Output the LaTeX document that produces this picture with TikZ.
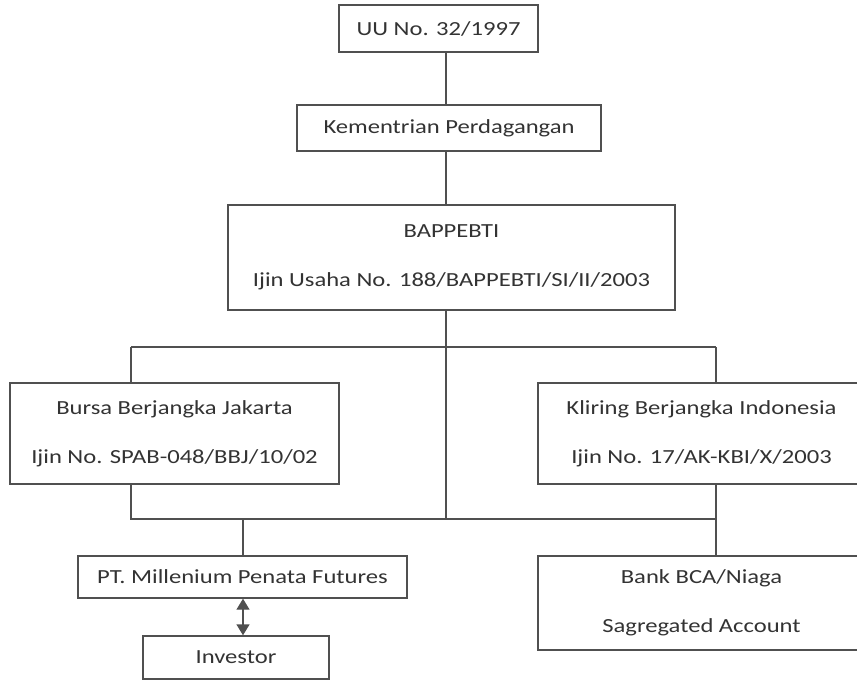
\documentclass[tikz,border=0pt]{standalone}
\usepackage{fontspec}
\setmainfont{Carlito}[FakeStretch=1.23]
\usetikzlibrary{arrows.meta}
\definecolor{linegray}{HTML}{505050}
\definecolor{textgray}{HTML}{333333}
\begin{document}
\begin{tikzpicture}[x=1pt,y=-1pt,
  box/.style={draw=linegray, line width=1.4pt, inner sep=0pt, align=center,
    text=textgray, font=\fontsize{20}{49}\selectfont},
  conn/.style={draw=linegray, line width=1.4pt},
  >={Triangle[width=13pt,length=11pt]}]
\useasboundingbox (0,0) rectangle (857,681);
\clip (0,0) rectangle (857,681);
\fill[white] (0,0) rectangle (857,681);
% boxes: centre, size
\node[box, minimum width=199pt, minimum height=47pt] (uu) at (438.5,28.5) {UU No. 32/1997};
\node[box, minimum width=304pt, minimum height=46pt] (kem) at (449,128) {Kementrian Perdagangan};
\node[box, minimum width=447pt, minimum height=105pt] (bap) at (451.5,257.5) {BAPPEBTI\\Ijin Usaha No. 188/BAPPEBTI/SI/II/2003};
\node[box, minimum width=329pt, minimum height=101pt] (bbj) at (174.5,433.5) {Bursa Berjangka Jakarta\\Ijin No. SPAB-048/BBJ/10/02};
\node[box, minimum width=327pt, minimum height=101pt] (kbi) at (701.5,433.5) {Kliring Berjangka Indonesia\\Ijin No. 17/AK-KBI/X/2003};
\node[box, minimum width=329pt, minimum height=42pt] (pt) at (242.5,577) {PT. Millenium Penata Futures};
\node[box, minimum width=186pt, minimum height=43pt] (inv) at (236,657.5) {Investor};
\node[box, minimum width=327pt, minimum height=94pt] (bank) at (701.5,603) {Bank BCA/Niaga\\Sagregated Account};
% junction coordinates
\coordinate (tl) at (131,347);
\coordinate (tr) at (716,347);
\coordinate (tm) at (446,347);
\coordinate (bl) at (131,519);
\coordinate (br) at (716,519);
\coordinate (bm) at (446,519);
\coordinate (bpt) at (243,519);
\coordinate (trunk) at (446,0);
% connectors
\draw[conn] (uu.south -| trunk) -- (kem.north -| trunk);
\draw[conn] (kem.south -| trunk) -- (bap.north -| trunk);
\draw[conn] (bap.south -| trunk) -- (tm);
\draw[conn] (tl) -- (tr);
\draw[conn] (tl) -- (bbj.north -| tl);
\draw[conn] (tr) -- (kbi.north -| tr);
\draw[conn] (tm) -- (bm);
\draw[conn] (bbj.south -| bl) -- (bl) -- (br) -- (kbi.south -| br);
\draw[conn] (br) -- (bank.north -| br);
\draw[conn] (bpt) -- (pt.north -| bpt);
\draw[conn, <->] (pt.south -| bpt) -- (inv.north -| bpt);
\end{tikzpicture}
\end{document}
